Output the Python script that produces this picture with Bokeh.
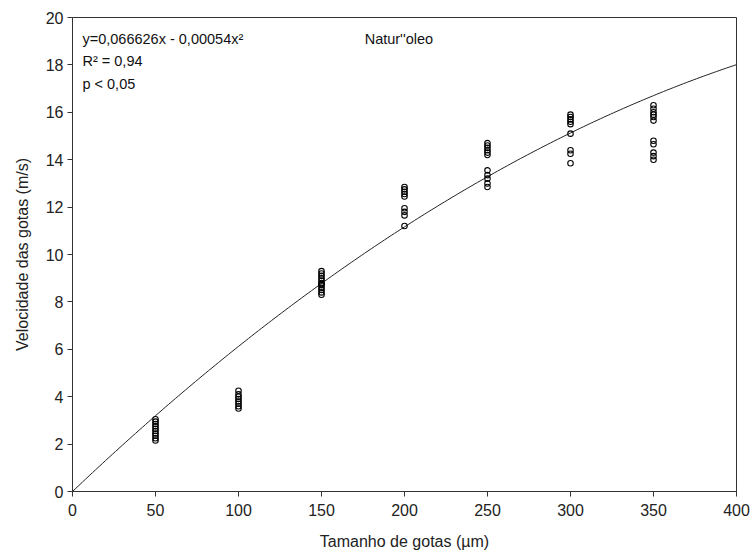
import numpy as np
from bokeh.plotting import figure
from bokeh.models import Range1d, FixedTicker, ColumnDataSource
from bokeh.core.properties import value
from bokeh.embed import file_html
from bokeh.resources import INLINE

# ---- data ----
size_50 = [2.15, 2.25, 2.35, 2.45, 2.55, 2.65, 2.75, 2.85, 2.95, 3.05]
size_100 = [3.5, 3.6, 3.7, 3.8, 3.9, 4.0, 4.1, 4.25]
size_150 = [8.3, 8.4, 8.5, 8.6, 8.7, 8.75, 8.8, 8.9, 9.0, 9.1, 9.2, 9.3]
size_200 = [11.2, 11.65, 11.8, 11.95, 12.45, 12.55, 12.65, 12.75, 12.85]
size_250 = [12.85, 13.0, 13.2, 13.35, 13.55, 14.2, 14.3, 14.4, 14.5, 14.6, 14.7]
size_300 = [13.85, 14.25, 14.4, 15.1, 15.5, 15.6, 15.7, 15.8, 15.9]
size_350 = [14.0, 14.15, 14.3, 14.65, 14.8, 15.65, 15.8, 15.9, 16.0, 16.15, 16.3]
droplet_sizes = [50, 100, 150, 200, 250, 300, 350]
groups = [size_50, size_100, size_150, size_200, size_250, size_300, size_350]

# fitted curve coefficients (y = b1*x - b2*x^2)
b1 = 0.066626
b2 = 0.000054

x_ticks = [0, 50, 100, 150, 200, 250, 300, 350, 400]
y_ticks = [0, 2, 4, 6, 8, 10, 12, 14, 16, 18, 20]

xs, ys = [], []
for s, vals in zip(droplet_sizes, groups):
    xs += [s] * len(vals)
    ys += vals

FONT = "Liberation Sans"

p = figure(width=752, height=558, output_backend="svg", toolbar_location=None,
           x_range=Range1d(0, 400), y_range=Range1d(0, 20),
           min_border_left=72, min_border_right=16, min_border_top=17, min_border_bottom=67)
p.background_fill_color = "white"
p.border_fill_color = "white"
p.outline_line_color = "#333333"
p.outline_line_width = 1
p.xgrid.visible = False
p.ygrid.visible = False

for ax, ticks in ((p.xaxis, x_ticks), (p.yaxis, y_ticks)):
    ax.ticker = FixedTicker(ticks=ticks)
    ax.minor_tick_line_color = None
    ax.major_tick_out = 5
    ax.major_tick_in = 0
    ax.axis_line_color = "#333333"
    ax.major_tick_line_color = "#333333"
    ax.major_label_text_font = FONT
    ax.major_label_text_font_size = "16px"
    ax.major_label_text_color = "#222222"
    ax.axis_label_text_font = FONT
    ax.axis_label_text_font_size = "16px"
    ax.axis_label_text_font_style = "normal"
    ax.axis_label_text_color = "#222222"

p.xaxis.axis_label = "Tamanho de gotas (µm)"
p.yaxis.axis_label = "Velocidade das gotas (m/s)"
p.xaxis.major_label_standoff = 7
p.xaxis.axis_label_standoff = 14
p.yaxis.major_label_standoff = 4
p.yaxis.axis_label_standoff = 12

# fitted curve
cx = np.linspace(0, 400, 201)
cy = b1 * cx - b2 * cx ** 2
p.line(cx, cy, line_color="#222222", line_width=1)

# observations
p.scatter(xs, ys, marker="circle", size=5.5, fill_color=None, line_color="black", line_width=1.1)

# annotations
src = ColumnDataSource(dict(
    x=[6, 6, 6, 176],
    y=[19.1, 18.15, 17.2, 19.1],
    t=["y=0,066626x - 0,00054x²", "R² = 0,94", "p < 0,05", "Natur''oleo"],
))
p.text(x="x", y="y", text="t", source=src, text_font=value(FONT), text_font_size="14.5px",
       text_color="#111111", text_baseline="middle", text_align="left")

open("out.html", "w").write(file_html(p, INLINE))
